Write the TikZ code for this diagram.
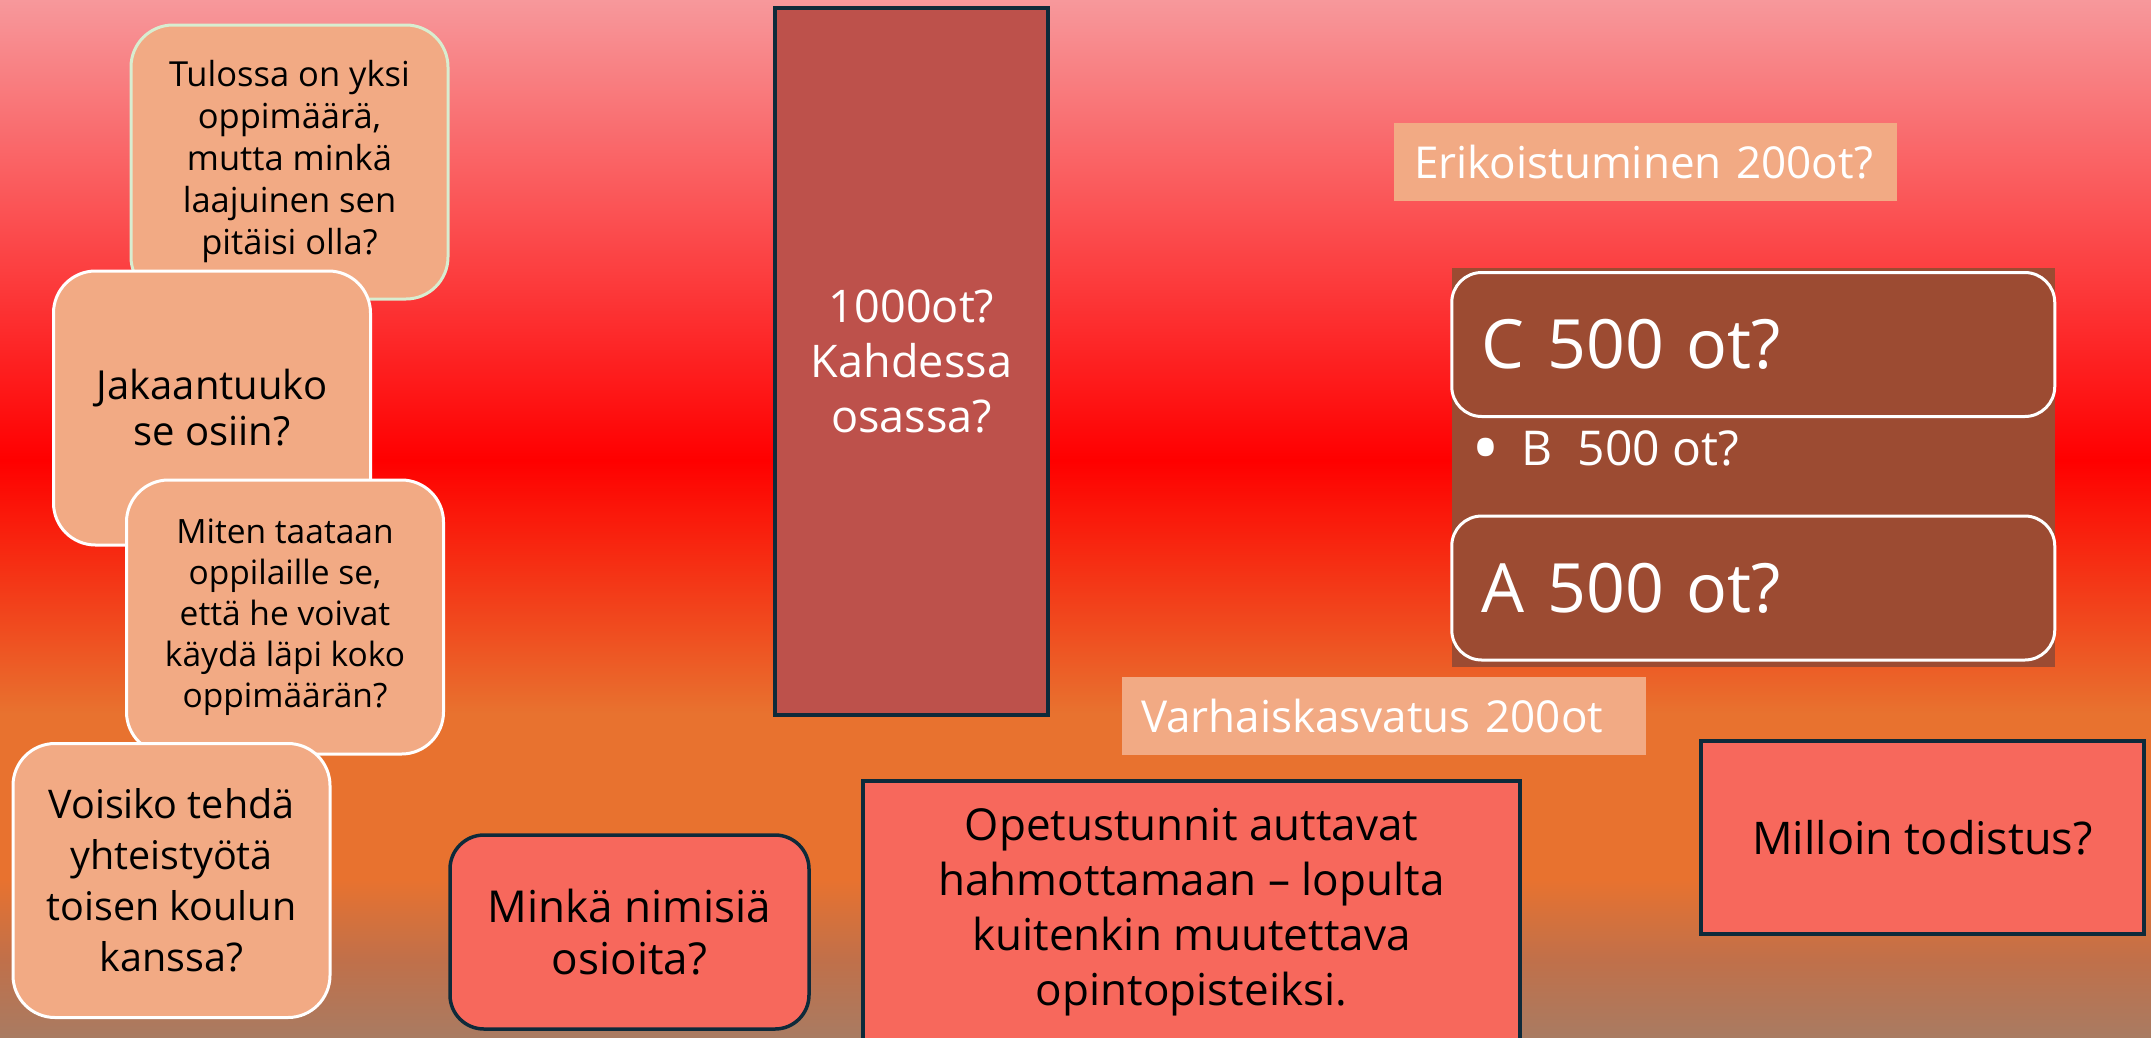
\documentclass[tikz,border=0pt]{standalone}
\usepackage{fontspec}
\usepackage{graphicx}
\setmainfont{Open Sans}
\usetikzlibrary{positioning}

\definecolor{salmon}{HTML}{F2AA84}
\definecolor{coral}{HTML}{F7685C}
\definecolor{brick}{HTML}{BD514B}
\definecolor{rust}{HTML}{9C4B32}
\definecolor{navy}{HTML}{0E2A3A}
\definecolor{mint}{HTML}{D8EDD0}
\definecolor{bgtop}{HTML}{F7989B}
\definecolor{bgred}{HTML}{FF0000}
\definecolor{bgorange}{HTML}{E8722F}
\definecolor{bgbrown}{HTML}{C0704A}
\definecolor{bgbot}{HTML}{A97B62}

\pgfdeclareverticalshading{slidebg}{100bp}{color(0bp)=(bgbot); color(25bp)=(bgbot);
  color(28.7bp)=(bgbrown); color(32.6bp)=(bgorange); color(40.6bp)=(bgorange);
  color(52.8bp)=(bgred); color(75bp)=(bgtop); color(100bp)=(bgtop)}

\begin{document}
\begin{tikzpicture}
[
  x=1pt, y=-1pt,
  question/.style={rectangle, rounded corners=42pt, draw=white, line width=3pt,
    fill=salmon, align=center, inner sep=0pt, minimum width=317pt, minimum height=274pt},
  coralbox/.style={rectangle, draw=navy, line width=3.5pt, fill=coral,
    align=center, inner sep=0pt},
  tag/.style={rectangle, fill=salmon, text=white, align=left, inner sep=0pt,
    minimum height=78pt, font=\fontsize{44}{50}\selectfont},
  level/.style={rectangle, rounded corners=30pt, draw=white, line width=3pt,
    fill=rust, text=white, align=left, inner sep=0pt, text width=543pt,
    minimum width=603pt, minimum height=144pt, font=\fontsize{68}{80}\selectfont}
]
 \useasboundingbox (0,0) rectangle (2151,1037);
 \shade[shading=slidebg] (0,0) rectangle (2151,1037);

 % questions on the left
 \node[question, draw=mint, font=\fontsize{34.5}{42}\selectfont] (tulossa) at (289.5,162)
   {Tulossa on yksi\\oppimäärä,\\mutta minkä\\laajuinen sen\\pitäisi olla?};
 \node[question, font=\fontsize{40}{46}\selectfont] (jakaantuuko) at (212,408)
   {Jakaantuuko\\se osiin?};
 \node[question, font=\fontsize{33.5}{41}\selectfont] (miten) at (285,617)
   {Miten taataan\\oppilaille se,\\että he voivat\\käydä läpi koko\\oppimäärän?};
 \node[question, font=\fontsize{39.5}{51}\selectfont] (voisiko) at (171.5,880.5)
   {Voisiko tehdä\\yhteistyötä\\toisen koulun\\kanssa?};

 \node[coralbox, rounded corners=34pt, minimum width=359pt, minimum height=194pt,
   font=\fontsize{44}{52}\selectfont] (osiot) at (629.5,932)
   {Minkä nimisiä\\osioita?};

 \node[coralbox, fill=brick, text=white, minimum width=273pt, minimum height=707pt,
   font=\fontsize{45}{55}\selectfont] (tuhat) at (911.5,361.5)
   {1000ot?\\Kahdessa\\osassa?};

 \node[coralbox, minimum width=657pt, minimum height=262pt,
   font=\fontsize{44}{55}\selectfont] (opetus) at (1191.5,912)
   {Opetustunnit auttavat\\hahmottamaan – lopulta\\kuitenkin muutettava\\opintopisteiksi.};

 \node[coralbox, minimum width=443pt, minimum height=193pt,
   font=\fontsize{45}{55}\selectfont] (todistus) at (1922.5,837.5)
   {Milloin todistus?};

 % credit blocks
 \node[tag, minimum width=503pt, text width=463pt] (erikois) at (1645.5,162)
   {Erikoistuminen 200ot?};
 \node[tag, minimum width=524pt, text width=486pt] (varhais) at (1384,715.5)
   {Varhaiskasvatus 200ot};

 \node[rectangle, fill=rust, inner sep=0pt, minimum width=603.5pt,
   minimum height=399.5pt] (osat) at (1753.25,467.25) {};
 \node[level] (cosa) at (1753.25,344.5) {C 500 ot?};
 \node[level] (aosa) at (1753.25,588) {A 500 ot?};
 \node[anchor=west, text=white, inner sep=0pt, font=\fontsize{48}{56}\selectfont]
   (bosa) at (1471,453)
   {\raisebox{-0.2em}{\scalebox{1.6}{\textbullet}}\hspace{0.45em}B\ \ 500 ot?};
\end{tikzpicture}
\end{document}
